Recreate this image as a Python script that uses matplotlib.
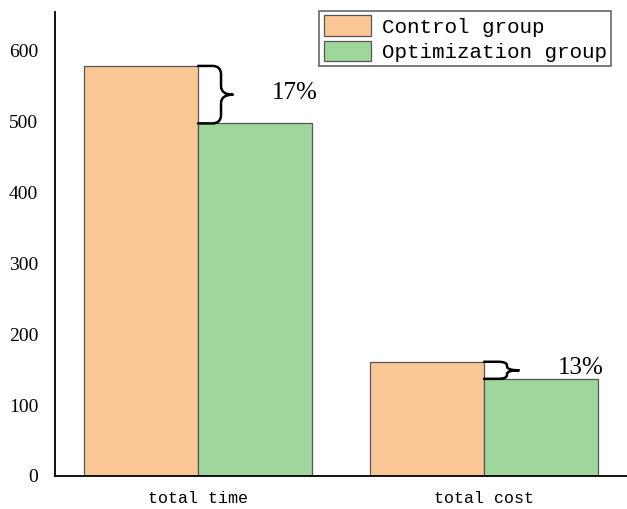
import matplotlib

matplotlib.use("Agg")
import matplotlib.pyplot as plt
import numpy as np
from matplotlib.patches import PathPatch
from matplotlib.path import Path

categories = ["total time", "total cost"]
control = [578, 161]
optimized = [497, 137]
reductions = ["17%", "13%"]
series_names = ["Control group", "Optimization group"]

ORANGE = "#f9c796"
GREEN = "#9fd69b"
WIDTH = 0.4


def brace(ax, x0, y_top, y_bot, w=0.122):
    """Right-pointing curly brace between two heights, starting at x0."""
    col = x0 + 0.66 * w
    tip = x0 + w
    ym = (y_top + y_bot) / 2
    span = y_top - y_bot
    ry = min(0.22 * span, 12)
    rx = 0.25 * w
    verts = [
        (x0, y_top), (col - rx, y_top),
        (col, y_top), (col, y_top - ry),
        (col, ym + ry),
        (col, ym), (tip, ym),
        (col, ym), (col, ym - ry),
        (col, y_bot + ry),
        (col, y_bot), (col - rx, y_bot),
        (x0, y_bot),
    ]
    codes = [Path.MOVETO, Path.LINETO,
             Path.CURVE3, Path.CURVE3,
             Path.LINETO,
             Path.CURVE3, Path.CURVE3,
             Path.CURVE3, Path.CURVE3,
             Path.LINETO,
             Path.CURVE3, Path.CURVE3,
             Path.LINETO]
    ax.add_patch(PathPatch(Path(verts, codes), fill=False, lw=1.8,
                           ec="black", capstyle="round", joinstyle="round"))


fig = plt.figure(figsize=(6.27, 5.09), dpi=100)
ax = fig.add_axes([55 / 627, 1 - 476 / 509, (627 - 55) / 627, (476 - 12) / 509])

x = np.arange(len(categories))
ax.bar(x - WIDTH / 2, control, WIDTH, color=ORANGE, edgecolor="#555555",
       lw=0.9, label=series_names[0])
ax.bar(x + WIDTH / 2, optimized, WIDTH, color=GREEN, edgecolor="#555555",
       lw=0.9, label=series_names[1])

for xi, c, o, txt in zip(x, control, optimized, reductions):
    brace(ax, xi, c, o)
    ax.text(xi + 0.34, (c + o) / 2 + 3, txt, ha="center", va="center",
            fontsize=18, family="Liberation Serif")

ax.set_xlim(-0.5, 1.5)
ax.set_ylim(0, 654)
ax.set_xticks(x)
ax.set_xticklabels(categories, family="Liberation Mono", fontsize=12)
ax.set_yticks([0, 100, 200, 300, 400, 500, 600])
for lab in ax.get_yticklabels():
    lab.set_family("Liberation Serif")
    lab.set_fontsize(14)
ax.tick_params(axis="y", length=0, pad=12)
ax.tick_params(axis="x", length=0, pad=11)
for s in ["top", "right"]:
    ax.spines[s].set_visible(False)
for s in ["left", "bottom"]:
    ax.spines[s].set_linewidth(1.3)

leg = ax.legend(loc="upper right", bbox_to_anchor=(611 / 627, 1 - 11 / 509),
                bbox_transform=fig.transFigure, borderaxespad=0,
                prop={"family": "Liberation Mono", "size": 15},
                handlelength=2.3, handleheight=1.15, labelspacing=0.2,
                handletextpad=0.5, borderpad=0.2, fancybox=False,
                framealpha=1, edgecolor="#666666")
leg.get_frame().set_linewidth(1.2)

fig.savefig("out.png", dpi=100)
